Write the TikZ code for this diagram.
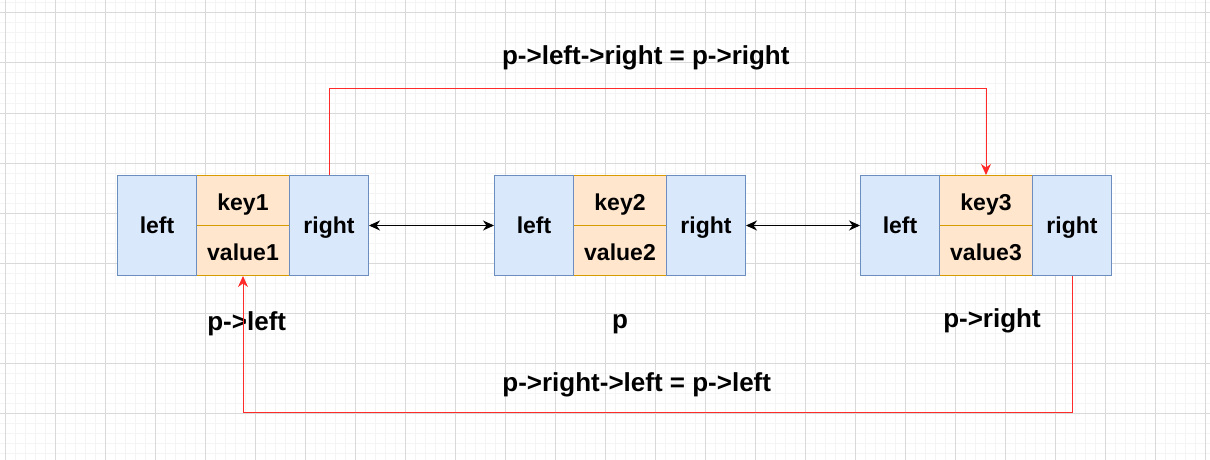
\documentclass[tikz,border=0pt]{standalone}
\usepackage{fontspec}
\setmainfont{Liberation Sans}
\usetikzlibrary{arrows.meta}
\definecolor{ptrfill}{HTML}{DAE8FC}
\definecolor{ptrline}{HTML}{6C8EBF}
\definecolor{datafill}{HTML}{FFE6CC}
\definecolor{dataline}{HTML}{D79B00}
\definecolor{gridmajor}{HTML}{D9D9D9}
\definecolor{gridminor}{HTML}{F4F4F4}
\definecolor{relink}{HTML}{FF2A2A}

\begin{document}
\begin{tikzpicture}[x=1pt,y=-1pt,
    ptrcell/.style={shape=rectangle,draw=ptrline,fill=ptrfill,line width=1pt,inner sep=0pt,
        minimum width=79pt,minimum height=100pt,font=\fontsize{23}{27}\selectfont\bfseries,
        text height=17pt,text depth=1.4pt},
    datacell/.style={shape=rectangle,draw=dataline,fill=datafill,line width=1pt,inner sep=0pt,
        minimum width=93pt,minimum height=50pt,font=\fontsize{23}{27}\selectfont\bfseries,
        text height=19pt,text depth=0pt},
    lbl/.style={anchor=base,inner sep=0pt,font=\fontsize{26}{30}\selectfont\bfseries},
    link/.style={line width=1pt,{Stealth[length=11pt,width=10pt,inset=3.5pt]}-{Stealth[length=11pt,width=10pt,inset=3.5pt]}},
    relinkline/.style={draw=relink,line width=1pt,-{Stealth[length=11pt,width=10pt,inset=3.5pt]}}]
    \useasboundingbox (0,0) rectangle (1210,460);
    % grid
    \foreach \gx in {5,15,...,1205} \draw[gridminor,line width=1pt] (\gx,0) -- (\gx,460);
    \foreach \gy in {3,13,...,453} \draw[gridminor,line width=1pt] (0,\gy) -- (1210,\gy);
    \foreach \gx in {5,55,...,1205} \draw[gridmajor,line width=1pt] (\gx,0) -- (\gx,460);
    \foreach \gy in {13,63,...,413} \draw[gridmajor,line width=1pt] (0,\gy) -- (1210,\gy);

    % node p->left
    \node[datacell] (k1) at (243,200.5) {key1};
    \node[datacell] (v1) at (243,250.5) {value1};
    \node[ptrcell] (l1) at (157,225.5) {left};
    \node[ptrcell] (r1) at (329,225.5) {right};
    % node p
    \node[datacell] (k2) at (620,200.5) {key2};
    \node[datacell] (v2) at (620,250.5) {value2};
    \node[ptrcell] (l2) at (534,225.5) {left};
    \node[ptrcell] (r2) at (706,225.5) {right};
    % node p->right
    \node[datacell] (k3) at (986,200.5) {key3};
    \node[datacell] (v3) at (986,250.5) {value3};
    \node[ptrcell] (l3) at (900,225.5) {left};
    \node[ptrcell] (r3) at (1072,225.5) {right};

    \node[lbl] (nameL) at (246.7,330) {p->left};
    \node[lbl] (nameP) at (620,328) {p};
    \node[lbl] (nameR) at (992,327) {p->right};
    \node[lbl] (top) at (645.8,65) {p->left->right = p->right};
    \node[lbl] (bottom) at (636.7,391.7) {p->right->left = p->left};

    \path [link] (r1) edge (l2);
    \path [link] (r2) edge (l3);
    \draw [relinkline] (r1.north) -- (r1.north |- 0,88) -| (k3.north);
    \draw [relinkline] (r3.south) -- (r3.south |- 0,412) -| (v1.south);
\end{tikzpicture}
\end{document}
